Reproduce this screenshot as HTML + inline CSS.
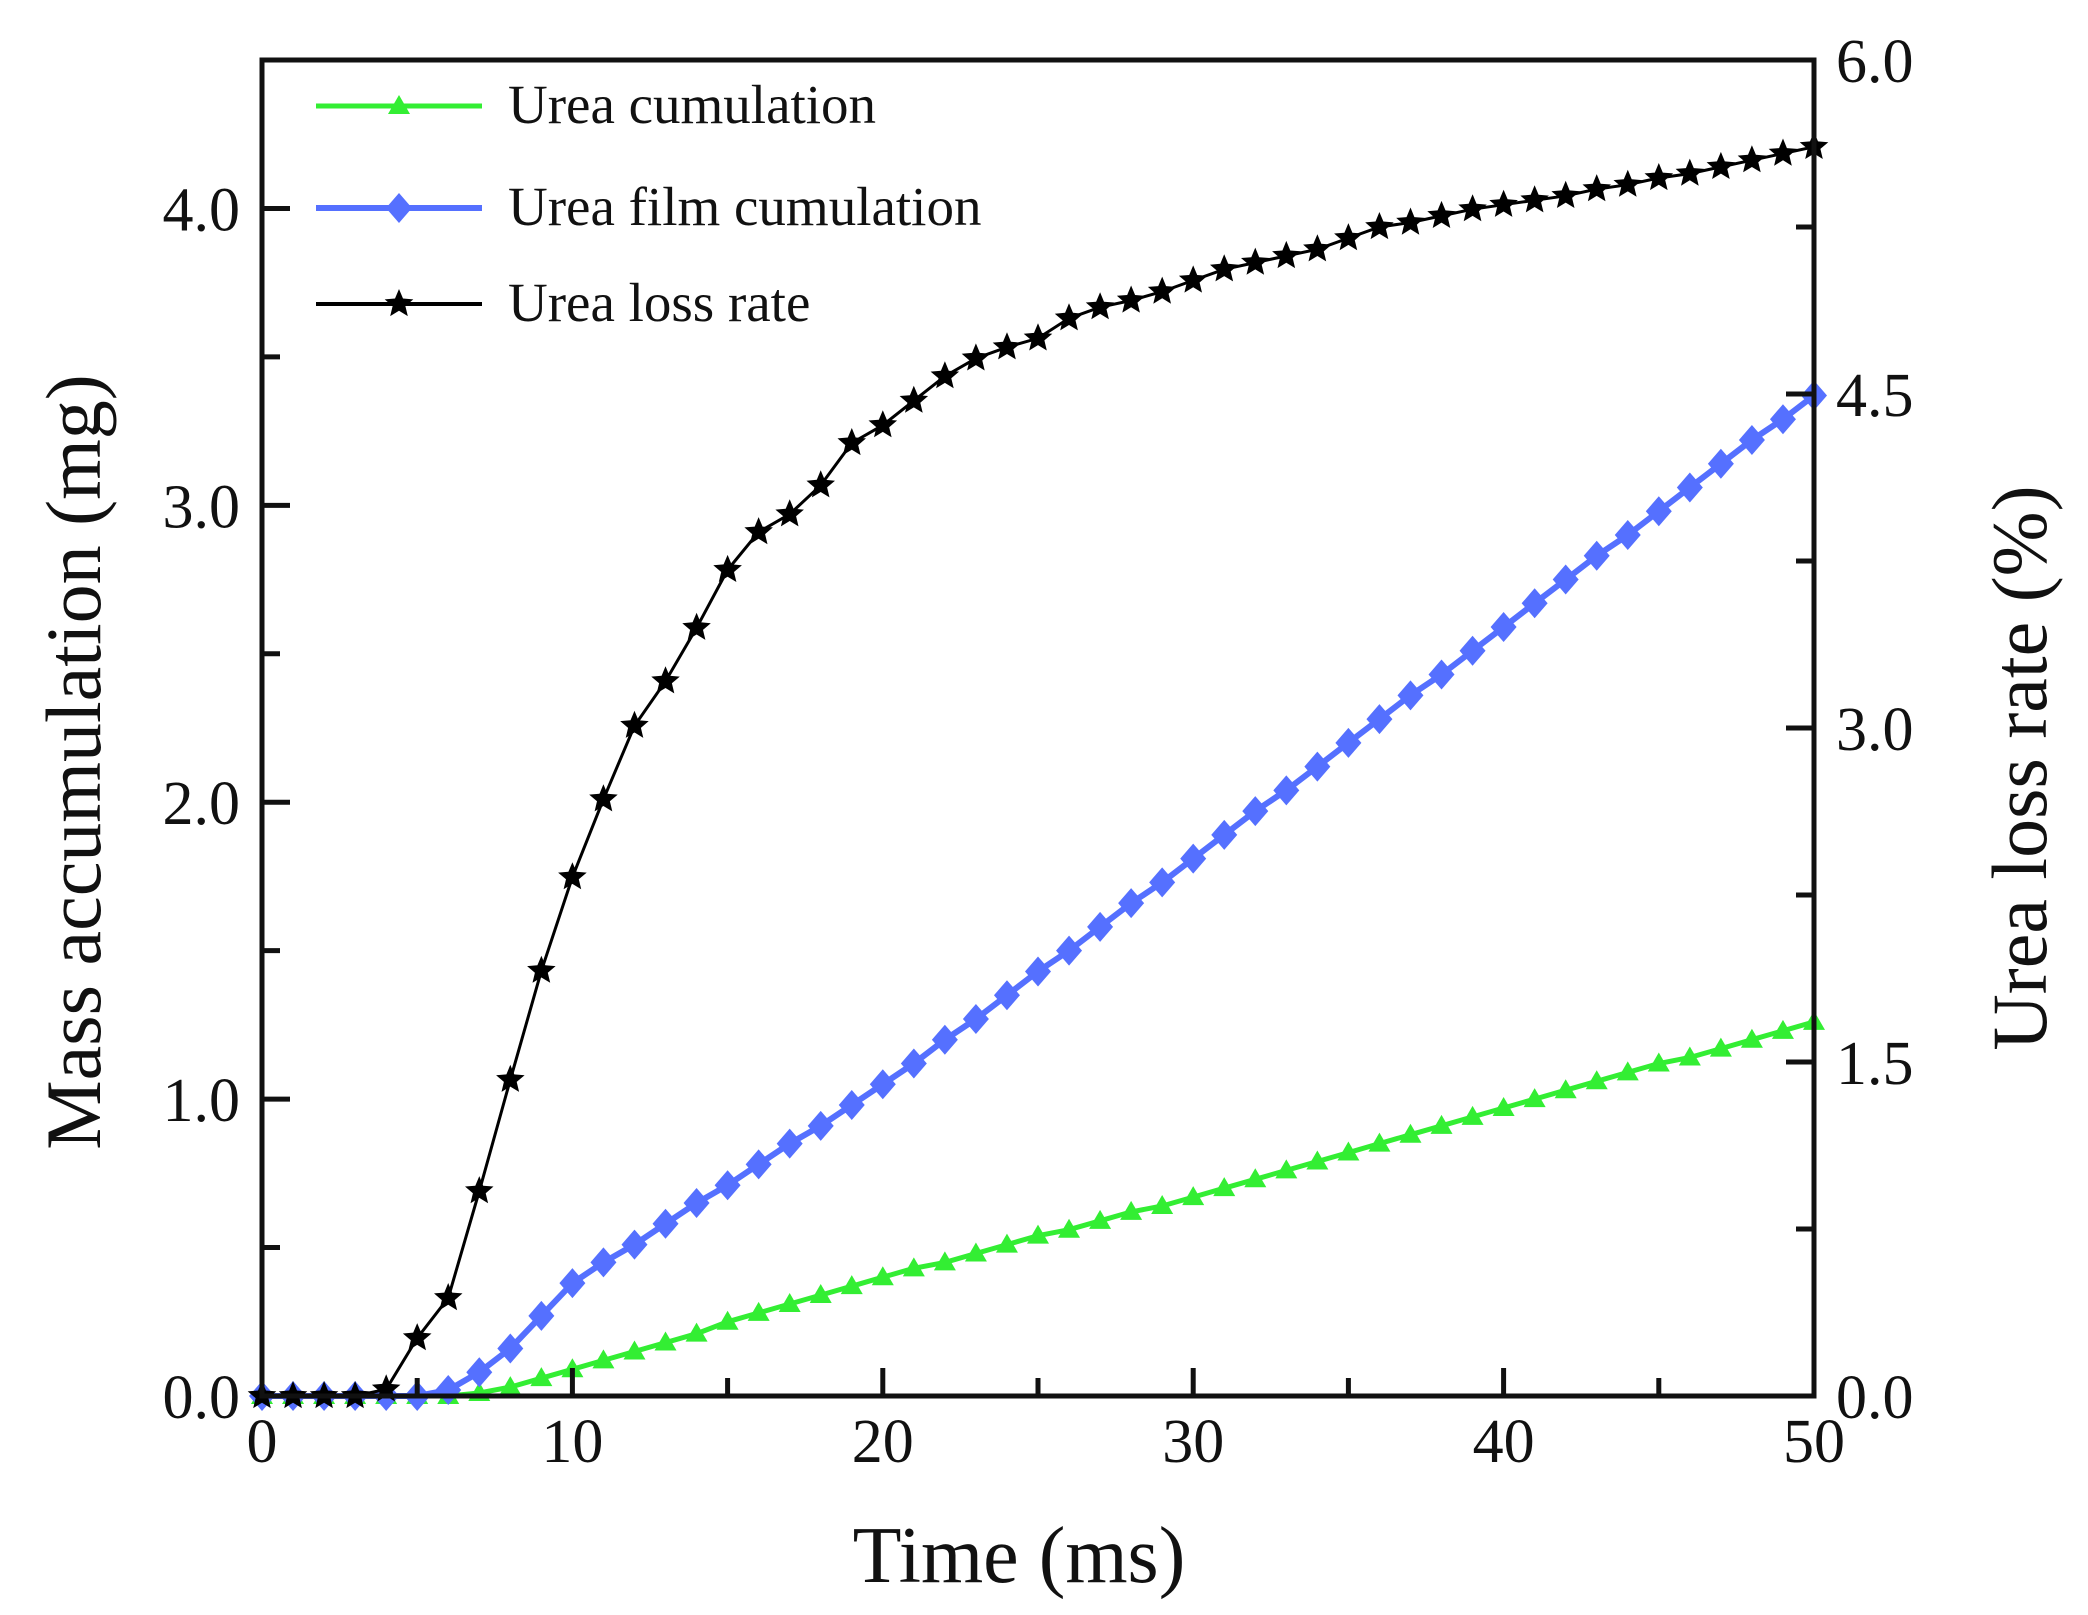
<!DOCTYPE html>
<html><head><meta charset="utf-8"><style>
html,body{margin:0;padding:0;background:#fff}
svg{display:block}
text{font-family:"Liberation Serif",serif;fill:#111}
</style></head><body>
<svg id="chart" width="2088" height="1615" viewBox="0 0 2088 1615" xmlns="http://www.w3.org/2000/svg"></svg>
<script>
const timeMs=[0,1,2,3,4,5,6,7,8,9,10,11,12,13,14,15,16,17,18,19,20,21,22,23,24,25,26,27,28,29,30,31,32,33,34,35,36,37,38,39,40,41,42,43,44,45,46,47,48,49,50];
const lossRate=[0,0,0,0,0.03,0.26,0.44,0.92,1.42,1.91,2.33,2.68,3.01,3.21,3.45,3.71,3.88,3.96,4.09,4.28,4.36,4.47,4.58,4.66,4.71,4.75,4.84,4.89,4.92,4.96,5.01,5.06,5.09,5.12,5.15,5.20,5.25,5.27,5.30,5.33,5.35,5.37,5.39,5.42,5.44,5.47,5.49,5.52,5.55,5.58,5.61];
const filmMass=[0,0,0,0,0,0,0.02,0.08,0.16,0.27,0.38,0.45,0.51,0.58,0.65,0.71,0.78,0.85,0.91,0.98,1.05,1.12,1.20,1.27,1.35,1.43,1.50,1.58,1.66,1.73,1.81,1.89,1.97,2.04,2.12,2.20,2.28,2.36,2.43,2.51,2.59,2.67,2.75,2.83,2.90,2.98,3.06,3.14,3.22,3.29,3.37];
const ureaMass=[0,0,0,0,0,0,0,0.01,0.03,0.06,0.09,0.12,0.15,0.18,0.21,0.25,0.28,0.31,0.34,0.37,0.40,0.43,0.45,0.48,0.51,0.54,0.56,0.59,0.62,0.64,0.67,0.70,0.73,0.76,0.79,0.82,0.85,0.88,0.91,0.94,0.97,1.00,1.03,1.06,1.09,1.12,1.14,1.17,1.20,1.23,1.26];
const xTicks=[0,10,20,30,40,50];
const yLeftTicks=["0.0","1.0","2.0","3.0","4.0"];
const yRightTicks=["0.0","1.5","3.0","4.5","6.0"];

const L=262,R=1814,T=60,B=1396;
const xs=v=>L+(v-0)/50*(R-L);
const yl=v=>B-v/4.5*(B-T);
const yr=v=>B-v/6*(B-T);
const svg=document.getElementById('chart');
const NS='http://www.w3.org/2000/svg';
function mk(tag,attrs,parent){const e=document.createElementNS(NS,tag);for(const k in attrs)e.setAttribute(k,attrs[k]);(parent||svg).appendChild(e);return e;}

function series(vals,yf,color,marker,name,lw){
  const g=mk('g',{});
  
  
  const pts=vals.map((v,i)=>xs(timeMs[i]).toFixed(1)+','+yf(v).toFixed(1)).join(' ');
  mk('polyline',{points:pts,fill:'none',stroke:color,'stroke-width':lw},g);
  vals.forEach((v,i)=>{
    const m=drawMarker(g,xs(timeMs[i]),yf(v),color,marker);
    
    
  });
}
function star(cx,cy,r){let p=[];for(let k=0;k<10;k++){const a=-Math.PI/2+k*Math.PI/5;const rr=k%2?r*0.45:r;p.push((cx+rr*Math.cos(a)).toFixed(1)+','+(cy+rr*Math.sin(a)).toFixed(1));}return p.join(' ');}
function drawMarker(g,x,y,c,m){
  if(m==='tri')return mk('polygon',{points:`${x},${y-11} ${x-11},${y+8} ${x+11},${y+8}`,fill:c},g);
  if(m==='dia')return mk('polygon',{points:`${x},${y-15} ${x+13},${y} ${x},${y+15} ${x-13},${y}`,fill:c},g);
  return mk('polygon',{points:star(x,y,15),fill:'#000'},g);
}
series(ureaMass,yl,'#33ee33','tri','urea-cumulation-series',5);
series(filmMass,yl,'#5570ff','dia','urea-film-series',6);
series(lossRate,yr,'#000','star','urea-loss-rate-series',3);

const fr=mk('rect',{x:L,y:T,width:R-L,height:B-T,fill:'none',stroke:'#111','stroke-width':5});


for(let v=0;v<=50;v+=5){const major=v%10===0;mk('line',{x1:xs(v),x2:xs(v),y1:B,y2:B-(major?28:18),stroke:'#111','stroke-width':5});}
xTicks.forEach(v=>{const t=mk('text',{x:xs(v),y:1462,'font-size':62,'text-anchor':'middle'});t.textContent=v;
});
for(let v=0;v<=4.01;v+=0.5){const major=Math.abs(v-Math.round(v))<0.01;mk('line',{x1:L,x2:L+(major?28:18),y1:yl(v),y2:yl(v),stroke:'#111','stroke-width':5});}
yLeftTicks.forEach(s=>{const t=mk('text',{x:240,y:yl(parseFloat(s))+22,'font-size':62,'text-anchor':'end'});t.textContent=s;
});
for(let v=0;v<=6.01;v+=0.75){const major=Math.abs(v/1.5-Math.round(v/1.5))<0.01;mk('line',{x1:R,x2:R-(major?28:18),y1:yr(v),y2:yr(v),stroke:'#111','stroke-width':5});}
yRightTicks.forEach(s=>{const t=mk('text',{x:1836,y:yr(parseFloat(s))+22,'font-size':62,'text-anchor':'start'});t.textContent=s;
});

let t=mk('text',{x:1019,y:1582,'font-size':80,'text-anchor':'middle'});t.textContent='Time (ms)';

t=mk('text',{x:0,y:0,'font-size':78,'text-anchor':'middle',transform:'translate(100,762) rotate(-90)'});t.textContent='Mass accumulation (mg)';

t=mk('text',{x:0,y:0,'font-size':78,'text-anchor':'middle',transform:'translate(2046,768) rotate(-90)'});t.textContent='Urea loss rate  (%)';


const leg=[['Urea cumulation','#33ee33','tri',106,5],['Urea film cumulation','#5570ff','dia',208,6],['Urea loss rate','#000','star',304,4]];
leg.forEach(([lab,c,m,y,w])=>{
  const g=mk('g',{});
  
  
  mk('line',{x1:316,x2:482,y1:y,y2:y,stroke:c,'stroke-width':w},g);
  drawMarker(g,399,y,c,m);
  const tx=mk('text',{x:508,y:y+17,'font-size':55},g);tx.textContent=lab;
});
</script>
</body></html>
